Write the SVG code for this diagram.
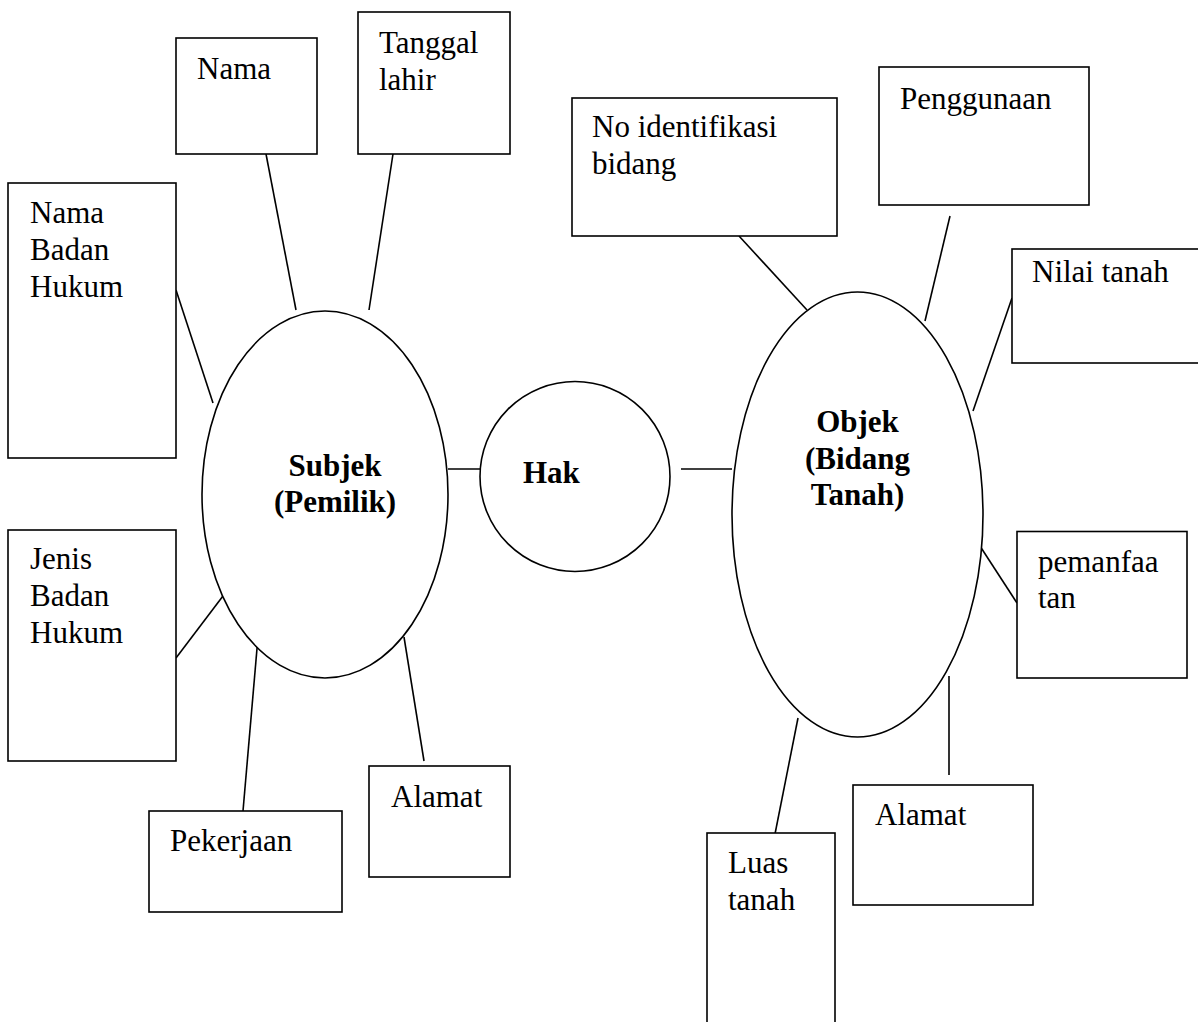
<svg xmlns="http://www.w3.org/2000/svg" width="1198" height="1022" viewBox="0 0 1198 1022">
<style>
.box{fill:#fff;stroke:#000;stroke-width:1.6}
.ell{fill:#fff;stroke:#000;stroke-width:1.6}
.t{font-family:"Liberation Serif","Times New Roman",serif;font-size:31px;fill:#000}
.b{font-family:"Liberation Serif","Times New Roman",serif;font-size:31px;font-weight:bold;fill:#000}
#connectors line{stroke:#000;stroke-width:1.6}
</style>
<rect width="1198" height="1022" fill="#fff"/>
<g id="connectors">
<line x1="266" y1="154" x2="296" y2="310"/>
<line x1="393" y1="154" x2="369" y2="310"/>
<line x1="176" y1="290" x2="213" y2="403"/>
<line x1="176" y1="658" x2="226" y2="592"/>
<line x1="258" y1="637" x2="243" y2="811"/>
<line x1="404" y1="637" x2="424" y2="761"/>
<line x1="448" y1="469" x2="489" y2="469"/>
<line x1="681" y1="469" x2="732" y2="469"/>
<line x1="739" y1="236" x2="807" y2="310"/>
<line x1="950" y1="216" x2="925" y2="321"/>
<line x1="1012" y1="298" x2="973" y2="411"/>
<line x1="978" y1="543" x2="1017" y2="603"/>
<line x1="949" y1="676" x2="949" y2="775"/>
<line x1="798" y1="718" x2="774" y2="839"/>
</g>
<g id="nama"><rect class="box" x="176" y="38" width="141" height="116"/><text class="t" x="197" y="79">Nama</text></g>
<g id="tanggal-lahir"><rect class="box" x="358" y="12" width="152" height="142"/><text class="t" x="379" y="53">Tanggal</text><text class="t" x="379" y="90">lahir</text></g>
<g id="nama-badan-hukum"><rect class="box" x="8" y="183" width="168" height="275"/><text class="t" x="30" y="223">Nama</text><text class="t" x="30" y="260">Badan</text><text class="t" x="30" y="297">Hukum</text></g>
<g id="jenis-badan-hukum"><rect class="box" x="8" y="530" width="168" height="231"/><text class="t" x="30" y="569">Jenis</text><text class="t" x="30" y="606">Badan</text><text class="t" x="30" y="643">Hukum</text></g>
<g id="pekerjaan"><rect class="box" x="149" y="811" width="193" height="101"/><text class="t" x="170" y="851">Pekerjaan</text></g>
<g id="alamat-subjek"><rect class="box" x="369" y="766" width="141" height="111"/><text class="t" x="391" y="807">Alamat</text></g>
<g id="subjek"><ellipse class="ell" cx="325" cy="494.5" rx="123" ry="183.5"/><text class="b" x="335" y="476" text-anchor="middle">Subjek</text><text class="b" x="335" y="512" text-anchor="middle">(Pemilik)</text></g>
<g id="hak"><circle class="ell" cx="575" cy="476.5" r="95"/><text class="b" x="523" y="483">Hak</text></g>
<g id="objek"><ellipse class="ell" cx="857.5" cy="514.5" rx="125.5" ry="222.5"/><text class="b" x="857.5" y="432" text-anchor="middle">Objek</text><text class="b" x="857.5" y="469" text-anchor="middle">(Bidang</text><text class="b" x="857.5" y="505" text-anchor="middle">Tanah)</text></g>
<g id="no-identifikasi"><rect class="box" x="572" y="98" width="265" height="138"/><text class="t" x="592" y="137">No identifikasi</text><text class="t" x="592" y="174">bidang</text></g>
<g id="penggunaan"><rect class="box" x="879" y="67" width="210" height="138"/><text class="t" x="900" y="109">Penggunaan</text></g>
<g id="nilai-tanah"><rect class="box" x="1012" y="249" width="200" height="114"/><text class="t" x="1032" y="282">Nilai tanah</text></g>
<g id="pemanfaatan"><rect class="box" x="1017" y="531.5" width="170" height="146.5"/><text class="t" x="1038" y="572">pemanfaa</text><text class="t" x="1038" y="608">tan</text></g>
<g id="alamat-objek"><rect class="box" x="853" y="785" width="180" height="120"/><text class="t" x="875" y="825">Alamat</text></g>
<g id="luas-tanah"><rect class="box" x="707" y="833" width="128" height="220"/><text class="t" x="728" y="873">Luas</text><text class="t" x="728" y="910">tanah</text></g>
</svg>
